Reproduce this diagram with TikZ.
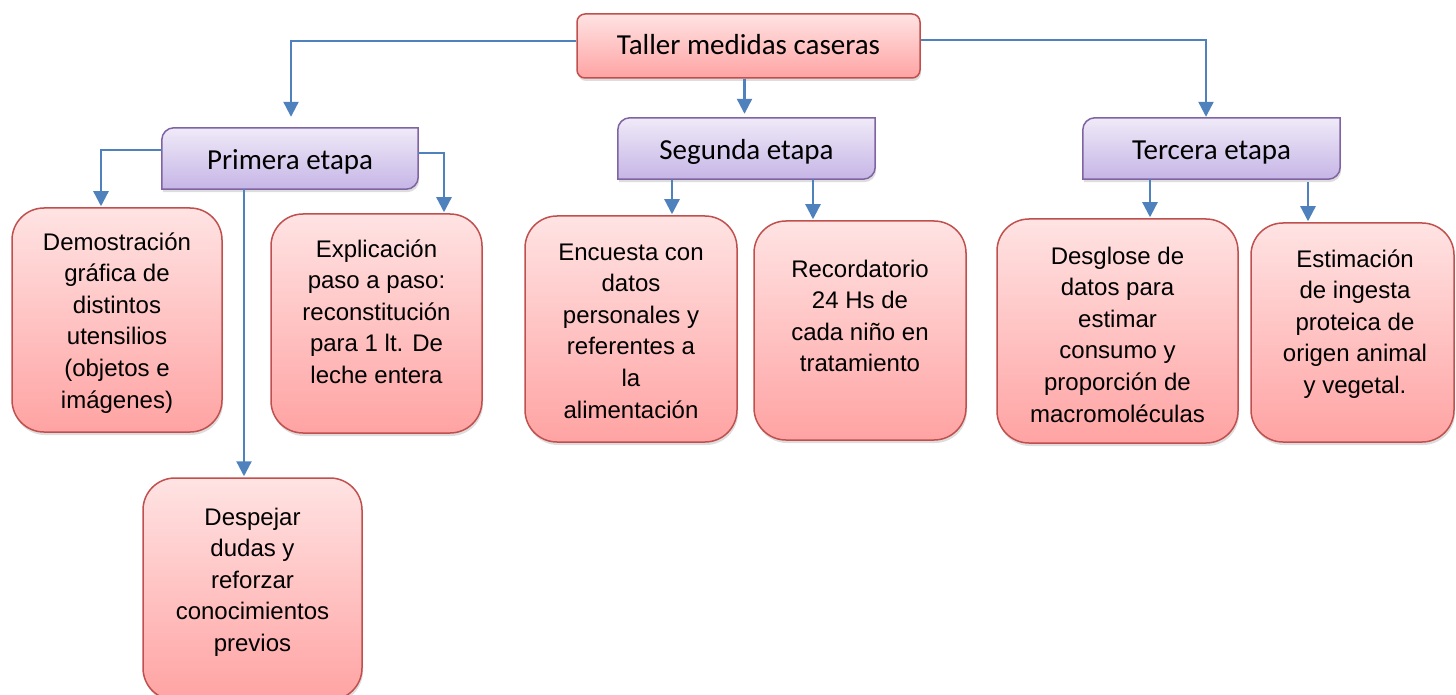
\documentclass[tikz,border=0pt]{standalone}
\usepackage{fontspec}
\setmainfont{Liberation Sans}
\newfontfamily\titlefont{Carlito}
\usetikzlibrary{arrows.meta,shadows,calc}
\definecolor{redborder}{HTML}{C0504D}
\definecolor{redtop}{HTML}{FFE3E3}
\definecolor{redbot}{HTML}{FFA3A3}
\definecolor{purpborder}{HTML}{8064A2}
\definecolor{purptop}{HTML}{EFEAF8}
\definecolor{purpbot}{HTML}{C6B5E6}
\definecolor{arrowblue}{HTML}{4F81BD}
\newcommand\etapashape[1]{%
  \path[pshape] (#1.south west) -- ($(#1.north west)+(0,12)$)
    .. controls ($(#1.north west)+(0,5.4)$) and ($(#1.north west)+(5.4,0)$) .. ($(#1.north west)+(12,0)$)
    -- (#1.north east) -- ($(#1.south east)+(0,-12)$)
    .. controls ($(#1.south east)+(0,-5.4)$) and ($(#1.south east)+(-5.4,0)$) .. ($(#1.south east)+(-12,0)$) -- cycle;}
\tikzset{
  myshadow/.style={drop shadow={shadow xshift=1pt, shadow yshift=-3pt, opacity=0.22, fill=black!60}},
  redbox/.style={rectangle, rounded corners=32pt, draw=redborder, line width=1.5pt,
    top color=redtop, bottom color=redbot, myshadow, inner sep=0pt},
  topbox/.style={rectangle, rounded corners=8pt, draw=redborder, line width=1.5pt,
    top color=redtop, bottom color=redbot, myshadow, inner sep=0pt},
  pholder/.style={rectangle, inner sep=0pt},
  pshape/.style={draw=purpborder, line width=1.5pt, top color=purptop, bottom color=purpbot, myshadow},
  ttext/.style={font=\titlefont\fontsize{29}{34}\selectfont, inner sep=0pt, text=black},
  body/.style={font=\fontsize{24}{31.6}\selectfont, align=center, inner sep=0pt, anchor=base, text=black},
  arr/.style={draw=arrowblue, line width=2.3pt, -{Triangle[width=15pt,length=15pt]}, shorten >=1pt},
}
\begin{document}
\begin{tikzpicture}[x=1pt,y=-1pt]
\useasboundingbox (0,0) rectangle (1456,695);
\clip (0,0) rectangle (1456,695);
% top box
\node[topbox, minimum width=343, minimum height=64] (top) at (748.5,46) {};
\node[ttext, anchor=base] (topt) at (748.5,55) {Taller medidas caseras};
% etapa boxes
\node[pholder, minimum width=256, minimum height=61] (p1) at (290,158.5) {};
\node[pholder, minimum width=257, minimum height=61] (p2) at (746.5,148.5) {};
\node[pholder, minimum width=257, minimum height=61] (p3) at (1211.5,148.5) {};
\etapashape{p1}
\etapashape{p2}
\etapashape{p3}
\node[ttext, anchor=base] (p1t) at (290,170) {Primera etapa};
\node[ttext, anchor=base] (p2t) at (746.5,160) {Segunda etapa};
\node[ttext, anchor=base] (p3t) at (1211.5,160) {Tercera etapa};
% leaf boxes
\node[redbox, minimum width=210, minimum height=224] (d1) at (117,320) {};
\node[redbox, minimum width=211, minimum height=219] (d2) at (376.5,323.5) {};
\node[redbox, minimum width=219, minimum height=222] (d3) at (252.5,589) {};
\node[redbox, minimum width=212, minimum height=226] (e1) at (631,329) {};
\node[redbox, minimum width=212, minimum height=219] (e2) at (860,330.5) {};
\node[redbox, minimum width=241, minimum height=224] (f1) at (1117.5,331) {};
\node[redbox, minimum width=203, minimum height=219] (f2) at (1352.5,332.5) {};
% texts (anchored on the baseline of their last line)
\begin{scope}
\clip (0,0) rectangle (240,412);
\node[body] (d1t) at (117,408) {Demostración\\gráfica de\\distintos\\utensilios\\(objetos e\\imágenes)};
\end{scope}
\node[body] (d2t) at (376.5,383.4) {Explicación\\paso a paso:\\reconstitución\\para 1 lt. De\\leche entera};
\node[body] (d3t) at (252.5,651.4) {Despejar\\dudas y\\reforzar\\conocimientos\\previos};
\node[body] (e1t) at (631,418) {Encuesta con\\datos\\personales y\\referentes a\\la\\alimentación};
\node[body] (e2t) at (860,371.8) {Recordatorio\\24 Hs de\\cada niño en\\tratamiento};
\node[body] (f1t) at (1117.5,422) {Desglose de\\datos para\\estimar\\consumo y\\proporción de\\macromoléculas};
\node[body] (f2t) at (1355,393.4) {Estimación\\de ingesta\\proteica de\\origen animal\\y vegetal.};
% connectors
\draw[arr, shorten >=11pt] ([yshift=5pt]top.west) -| ([xshift=1pt]p1.north);
\coordinate (m) at ([xshift=-4pt]top.south);
\draw[arr, shorten >=4pt] (m) -- (m |- p2.north);
\draw[arr] ([yshift=6pt]top.east) -| ([xshift=-5.5pt]p3.north);
\draw[arr] ([yshift=8.5pt]p1.west) -| ([xshift=-16pt]d1.north);
\draw[arr] ([yshift=5.5pt]p1.east) -| ([xshift=67.5pt]d2.north);
\coordinate (pb) at ([xshift=-46pt]p1.south);
\draw[arr] (pb) -- (pb |- d3.north);
\coordinate (s1) at ([xshift=-74.5pt]p2.south);
\draw[arr] (s1) -- (s1 |- e1.north);
\coordinate (s2) at ([xshift=66.5pt]p2.south);
\draw[arr] (s2) -- (s2 |- e2.north);
\coordinate (t1) at ([xshift=-61.5pt]p3.south);
\draw[arr] (t1) -- (t1 |- f1.north);
\coordinate (t2) at ([xshift=96.5pt]p3.south);
\draw[arr] ([yshift=-3pt]t2) -- (t2 |- f2.north);
\end{tikzpicture}
\end{document}
